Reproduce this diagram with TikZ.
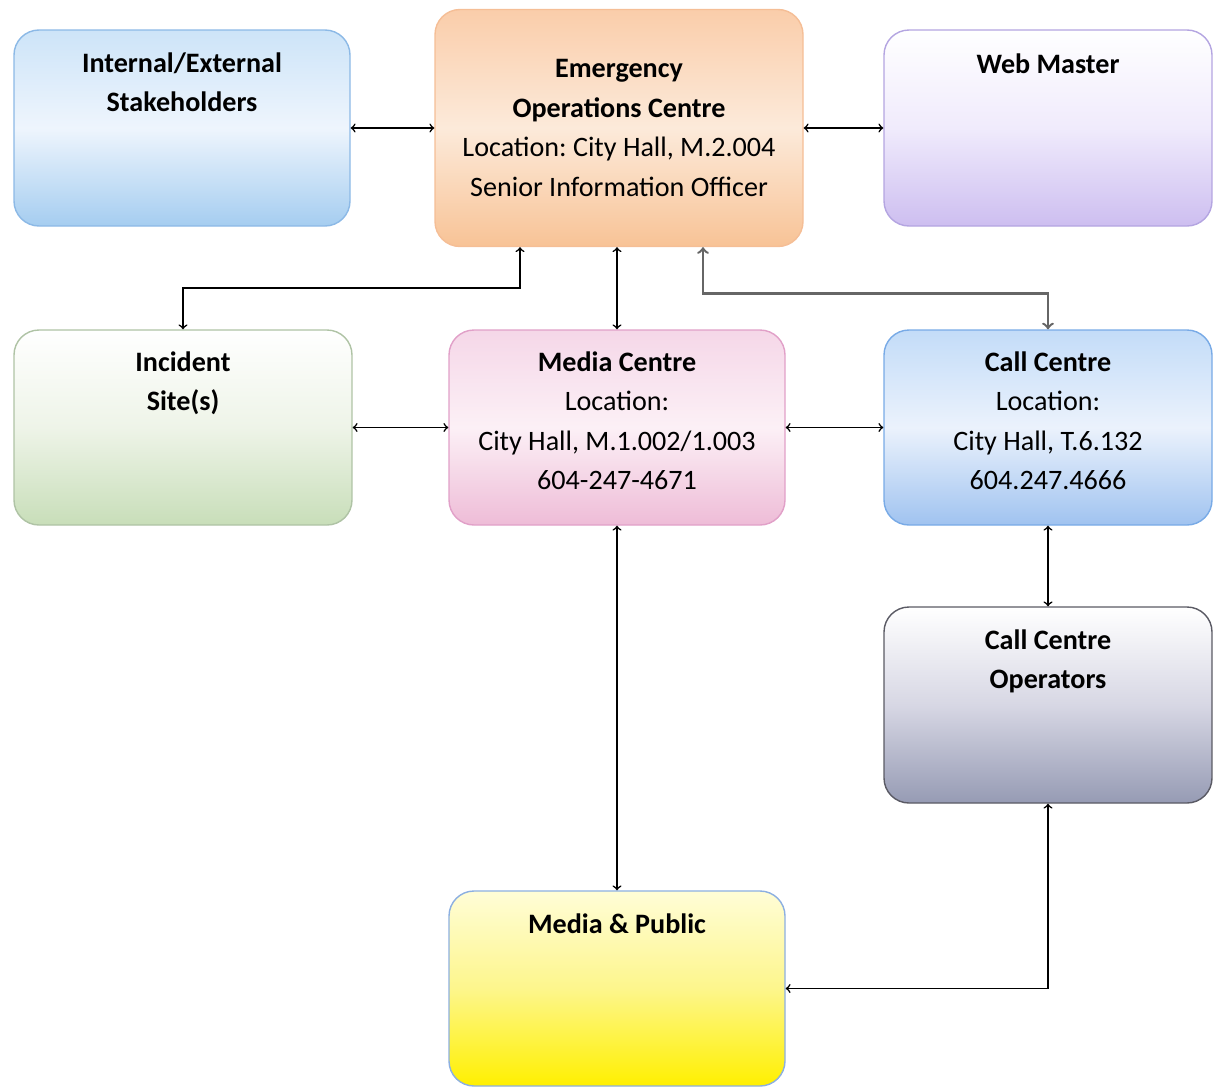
\documentclass[tikz,border=0pt]{standalone}
\usepackage{fontspec}
\setmainfont{Carlito}
\frenchspacing
\usetikzlibrary{positioning}
\definecolor{stakeTop}{RGB}{205,228,248}
\definecolor{stakeMid}{RGB}{238,245,253}
\definecolor{stakeBottom}{RGB}{165,205,240}
\definecolor{stakeLine}{RGB}{140,185,230}
\definecolor{eocTop}{RGB}{250,205,170}
\definecolor{eocMid}{RGB}{252,234,218}
\definecolor{eocBottom}{RGB}{248,195,150}
\definecolor{eocLine}{RGB}{245,190,150}
\definecolor{webMid}{RGB}{240,235,252}
\definecolor{webBottom}{RGB}{205,190,240}
\definecolor{webLine}{RGB}{180,165,225}
\definecolor{siteMid}{RGB}{238,244,232}
\definecolor{siteBottom}{RGB}{200,222,185}
\definecolor{siteLine}{RGB}{175,195,165}
\definecolor{mediaTop}{RGB}{245,215,232}
\definecolor{mediaMid}{RGB}{252,240,246}
\definecolor{mediaBottom}{RGB}{238,188,215}
\definecolor{mediaLine}{RGB}{225,160,200}
\definecolor{callTop}{RGB}{195,220,248}
\definecolor{callMid}{RGB}{235,242,252}
\definecolor{callBottom}{RGB}{160,195,240}
\definecolor{callLine}{RGB}{120,170,230}
\definecolor{opsMid}{RGB}{215,215,228}
\definecolor{opsBottom}{RGB}{150,155,180}
\definecolor{opsLine}{RGB}{90,90,100}
\definecolor{publicTop}{RGB}{255,253,215}
\definecolor{publicMid}{RGB}{253,246,140}
\definecolor{publicBottom}{RGB}{255,240,0}
\definecolor{publicLine}{RGB}{140,175,225}

\begin{document}
\begin{tikzpicture}

          \tikzstyle{box} = [rounded corners=0.5cm, inner sep=0pt, minimum height=3.9cm, line width=0.8pt];
          \tikzstyle{boxText} = [anchor=base, align=flush center, text width=7cm, font=\fontsize{16}{22.5}\selectfont];

          \tikzstyle{normalEdge} = [<->, line width=0.9pt];
          \tikzstyle{greyEdge} = [<->, line width=1.4pt, black!60];

          \useasboundingbox (0,0) rectangle (24.28,-21.76);

          \node[box, minimum width=6.72cm, minimum height=3.92cm, draw=stakeLine, top color=stakeTop, bottom color=stakeBottom, middle color=stakeMid] (stake) at (3.64,-2.56) {};
          \node[box, minimum width=7.36cm, minimum height=4.74cm, draw=eocLine, top color=eocTop, bottom color=eocBottom, middle color=eocMid] (eoc) at (12.38,-2.56) {};
          \node[box, minimum width=6.56cm, minimum height=3.92cm, draw=webLine, top color=white, bottom color=webBottom, middle color=webMid] (web) at (20.96,-2.56) {};
          \node[box, minimum width=6.76cm, draw=siteLine, top color=white, bottom color=siteBottom, middle color=siteMid] (site) at (3.66,-8.55) {};
          \node[box, minimum width=6.72cm, draw=mediaLine, top color=mediaTop, bottom color=mediaBottom, middle color=mediaMid] (media) at (12.34,-8.55) {};
          \node[box, minimum width=6.56cm, draw=callLine, top color=callTop, bottom color=callBottom, middle color=callMid] (call) at (20.96,-8.55) {};
          \node[box, minimum width=6.56cm, minimum height=3.92cm, draw=opsLine, top color=white, bottom color=opsBottom, middle color=opsMid] (ops) at (20.96,-14.10) {};
          \node[box, minimum width=6.72cm, draw=publicLine, top color=publicTop, bottom color=publicBottom, middle color=publicMid] (public) at (12.34,-19.77) {};

          \node[boxText] (stakeText) at ([yshift=-0.86cm]stake.north) {\textbf{Internal/External}\\\textbf{Stakeholders}};
          \node[boxText] (eocText) at ([yshift=-1.38cm]eoc.north) {\textbf{Emergency}\\\textbf{Operations Centre}\\Location: City Hall, M.2.004\\Senior Information Officer};
          \node[boxText] (webText) at ([yshift=-0.88cm]web.north) {\textbf{Web Master}};
          \node[boxText] (siteText) at ([yshift=-0.84cm]site.north) {\textbf{Incident}\\\textbf{Site(s)}};
          \node[boxText] (mediaText) at ([yshift=-0.84cm]media.north) {\textbf{Media Centre}\\Location:\\City Hall, M.1.002/1.003\\604-247-4671};
          \node[boxText] (callText) at ([yshift=-0.84cm]call.north) {\textbf{Call Centre}\\Location:\\City Hall, T.6.132\\604.247.4666};
          \node[boxText] (opsText) at ([yshift=-0.86cm]ops.north) {\textbf{Call Centre}\\\textbf{Operators}};
          \node[boxText] (publicText) at ([yshift=-0.86cm]public.north) {\textbf{Media \& Public}};

          \coordinate (eocLeft) at ([xshift=-1.98cm]eoc.south);
          \coordinate (eocRight) at ([xshift=1.68cm]eoc.south);

          \draw[normalEdge] (stake) -- (eoc);
          \draw[normalEdge] (eoc) -- (web);
          \draw[normalEdge] (eocLeft) -- ++(0,-0.81) -| (site.north);
          \draw[normalEdge] (media.north |- eoc.south) -- (media.north);
          \draw[greyEdge] (eocRight) -- ++(0,-0.93) -| (call.north);
          \draw[normalEdge] (site) -- (media);
          \draw[normalEdge] (media) -- (call);
          \draw[normalEdge] (call) -- (ops);
          \draw[normalEdge] (media) -- (public);
          \draw[normalEdge] (ops.south) |- (public.east);
        \end{tikzpicture}
\end{document}
